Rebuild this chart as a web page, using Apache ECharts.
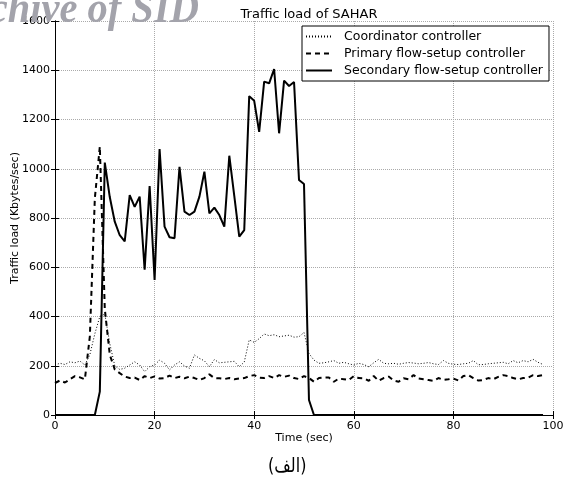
<!DOCTYPE html>
<html>
<head>
<meta charset="utf-8">
<script src="https://cdn.jsdelivr.net/npm/echarts@6/dist/echarts.min.js"></script>
<style>
  html, body { margin: 0; padding: 0; background: #fff; }
  #chart { width: 563px; height: 479px; }
</style>
</head>
<body>
<div id="chart"></div>
<script>
// time stamps (sec)
var time = [
  0, 1, 2, 3, 4, 5, 6, 7, 8, 9,
  10, 11, 12, 13, 14, 15, 16, 17, 18, 19,
  20, 21, 22, 23, 24, 25, 26, 27, 28, 29,
  30, 31, 32, 33, 34, 35, 36, 37, 38, 39,
  40, 41, 42, 43, 44, 45, 46, 47, 48, 49,
  50, 51, 52, 53, 54, 55, 56, 57, 58, 59,
  60, 61, 62, 63, 64, 65, 66, 67, 68, 69,
  70, 71, 72, 73, 74, 75, 76, 77, 78, 79,
  80, 81, 82, 83, 84, 85, 86, 87, 88, 89,
  90, 91, 92, 93, 94, 95, 96, 97, 98
];
// Coordinator controller
var coordinator = [
  203, 210, 205, 216, 212, 219, 203, 245, 330, 400,
  410, 290, 200, 185, 190, 203, 216, 203, 176, 196,
  203, 223, 210, 183, 203, 216, 199, 190, 244, 230,
  220, 196, 225, 212, 214, 216, 218, 196, 215, 305,
  295, 310, 329, 322, 326, 318, 321, 324, 316, 318,
  335, 250, 223, 210, 212, 216, 221, 210, 214, 208,
  203, 210, 205, 196, 212, 226, 210, 208, 210, 206,
  210, 213, 211, 208, 210, 213, 208, 205, 221, 210,
  206, 205, 208, 210, 221, 204, 205, 208, 210, 212,
  214, 208, 221, 212, 221, 216, 226, 214, 205
];
// Primary flow-setup controller
var primary = [
  130, 140, 132, 145, 158, 153, 145, 320, 880, 1090,
  430, 245, 185, 170, 156, 150, 152, 142, 158, 150,
  157, 148, 150, 160, 150, 155, 149, 156, 150, 142,
  150, 165, 150, 149, 146, 150, 145, 148, 150, 158,
  162, 152, 150, 158, 150, 162, 155, 160, 150, 146,
  158, 150, 135, 150, 152, 152, 135, 148, 145, 142,
  158, 150, 149, 139, 158, 139, 150, 156, 140, 135,
  149, 145, 162, 148, 145, 142, 139, 150, 143, 145,
  148, 140, 158, 162, 150, 140, 142, 150, 145, 155,
  162, 158, 150, 145, 150, 152, 162, 158, 162
];
// Secondary flow-setup controller
var secondary = [
  0, 0, 0, 0, 0, 0, 0, 0, 0, 95,
  1025, 885, 785, 730, 705, 893, 845, 887, 590, 930,
  548, 1080, 765, 722, 718, 1008, 826, 812, 826, 887,
  988, 819, 842, 812, 765, 1053, 890, 724, 751, 1295,
  1276, 1150, 1354, 1347, 1405, 1144, 1358, 1336, 1352, 954,
  938, 61, 0, 0, 0, 0, 0, 0, 0, 0,
  0, 0, 0, 0, 0, 0, 0, 0, 0, 0,
  0, 0, 0, 0, 0, 0, 0, 0, 0, 0,
  0, 0, 0, 0, 0, 0, 0, 0, 0, 0,
  0, 0, 0, 0, 0, 0, 0, 0, 0
];

function pairs(vals) {
    var out = [];
    for (var i = 0; i < vals.length; i++) {
        out.push([time[i], vals[i]]);
    }
    return out;
}

var font = 'DejaVu Sans';
var myChart = echarts.init(document.getElementById('chart'));
var option = {
    animation: false,
    backgroundColor: '#fff',
    textStyle: { fontFamily: font },
    title: {
        text: 'Traffic load of SAHAR',
        left: 304, top: 3, textAlign: 'center',
        textStyle: { fontFamily: font, fontSize: 13, fontWeight: 'normal', color: '#000' }
    },
    graphic: [
        {
            type: 'text', x: -53, y: -11, scaleX: 0.92, z: 100,
            style: {
                text: 'Archive of SID',
                font: 'italic bold 44px "Liberation Serif"',
                fill: '#a3a3ab'
            }
        },
        {
            type: 'text', x: 268, y: 457, scaleX: 0.8,
            style: {
                text: '(الف)',
                font: '20px "DejaVu Sans"',
                fill: '#000'
            }
        }
    ],
    legend: {
        orient: 'vertical',
        left: 302, top: 26,
        padding: [4, 6, 4, 3],
        itemGap: 4,
        itemWidth: 26, itemHeight: 13,
        borderColor: '#000', borderWidth: 1,
        backgroundColor: '#fff',
        itemStyle: { color: 'rgba(0,0,0,0)', borderWidth: 0, opacity: 0 },
        textStyle: { fontFamily: font, fontSize: 12.5, color: '#000', padding: [0, 0, 0, 7] },
        data: ['Coordinator controller', 'Primary flow-setup controller', 'Secondary flow-setup controller']
    },
    grid: { left: 55, right: 10, top: 21, bottom: 64, containLabel: false, outerBoundsMode: 'none' },
    xAxis: [
        {
            type: 'value', min: 0, max: 100, interval: 20,
            name: 'Time (sec)', nameLocation: 'middle', nameGap: 18, nameMoveOverlap: false,
            nameTextStyle: { fontFamily: font, fontSize: 11, color: '#000' },
            axisLine: { lineStyle: { color: '#000', width: 1 } },
            axisTick: { inside: true, length: 4, lineStyle: { color: '#000' } },
            axisLabel: { fontFamily: font, fontSize: 11, color: '#000', margin: 6 },
            splitLine: { show: true, lineStyle: { type: 'dotted', color: '#aaa' } }
        },
        {
            type: 'value', min: 0, max: 100, interval: 20, position: 'top',
            axisLine: { lineStyle: { color: '#000', width: 1 } },
            axisTick: { inside: true, length: 4, lineStyle: { color: '#000' } },
            axisLabel: { show: false },
            splitLine: { show: false }
        }
    ],
    yAxis: [
        {
            type: 'value', min: 0, max: 1600, interval: 200,
            name: 'Traffic load (Kbytes/sec)', nameLocation: 'middle', nameGap: 34, nameMoveOverlap: false,
            nameTextStyle: { fontFamily: font, fontSize: 11, color: '#000' },
            axisLine: { show: true, lineStyle: { color: '#000', width: 1 } },
            axisTick: { show: true, inside: true, length: 4, lineStyle: { color: '#000' } },
            axisLabel: {
                fontFamily: font, fontSize: 11, color: '#000', margin: 5,
                formatter: function (v) { return String(v); }
            },
            splitLine: { show: true, lineStyle: { type: 'dotted', color: '#aaa' } }
        },
        {
            type: 'value', min: 0, max: 1600, interval: 200, position: 'right',
            axisLine: { show: true, lineStyle: { color: '#000', width: 1 } },
            axisTick: { show: true, inside: true, length: 4, lineStyle: { color: '#000' } },
            axisLabel: { show: false },
            splitLine: { show: false }
        }
    ],
    series: [
        {
            name: 'Coordinator controller', type: 'line', symbol: 'none',
            data: pairs(coordinator),
            itemStyle: { color: '#000' },
            lineStyle: { color: '#000', width: 1, type: [1, 2] }
        },
        {
            name: 'Primary flow-setup controller', type: 'line', symbol: 'none',
            data: pairs(primary),
            itemStyle: { color: '#000' },
            lineStyle: { color: '#000', width: 2, type: [5, 4] }
        },
        {
            name: 'Secondary flow-setup controller', type: 'line', symbol: 'none',
            data: pairs(secondary),
            itemStyle: { color: '#000' },
            lineStyle: { color: '#000', width: 2 }
        }
    ]
};
myChart.setOption(option);
</script>
</body>
</html>
